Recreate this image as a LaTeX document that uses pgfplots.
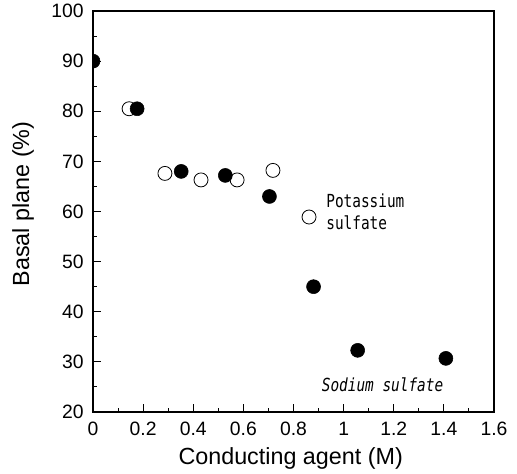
\documentclass[border=0pt]{standalone}
\usepackage{pgfplots}
\pgfplotsset{compat=1.18}
\usepackage{graphicx}
\usepackage{fontspec}
\setmainfont{Liberation Sans}
\newfontfamily\annofont{DejaVu Sans Mono}

% right half of a disc, for a point sitting on the left axis line
\pgfdeclareplotmark{rhalf}{%
  \pgfpathmoveto{\pgfqpoint{0pt}{\pgfplotmarksize}}%
  \pgfpatharc{90}{-90}{\pgfplotmarksize}%
  \pgfpathclose
  \pgfusepathqfillstroke}

% Basal plane fraction versus conducting agent concentration
\pgfplotstableread{
x      y
0.144  80.5
0.287  67.6
0.431  66.3
0.575  66.3
0.718  68.2
0.862  58.9
}\potassium
\pgfplotstableread{
x      y
0.000  90.0
}\sodiumzero
\pgfplotstableread{
x      y
0.176  80.5
0.352  68.0
0.528  67.2
0.704  63.0
0.880  45.0
1.056  32.3
1.408  30.7
}\sodium

\begin{document}
\begin{tikzpicture}
\begin{axis}[
  scale only axis,
  width=300.75pt, height=300.75pt,
  xmin=0, xmax=1.6, ymin=20, ymax=100,
  xtick={0,0.2,0.4,0.6,0.8,1,1.2,1.4,1.6},
  ytick={20,30,40,50,60,70,80,90,100},
  minor x tick num=1, minor y tick num=1,
  tick align=inside,
  xtick pos=bottom, ytick pos=left,
  major tick length=6pt, minor tick length=3pt,
  axis line style={line width=1.2pt},
  every tick/.style={black, line width=0.8pt},
  /pgf/number format/assume math mode=true,
  tick label style={font=\fontsize{14.5}{16}\selectfont},
  xticklabel shift=4.3pt,
  yticklabel shift=3.5pt,
  label style={font=\fontsize{17.5}{20}\selectfont},
  xlabel={Conducting agent (M)},
  ylabel={Basal plane (\%)},
  xlabel style={at={(axis description cs:0.493,-0.1147)}, anchor=center},
  ylabel style={at={(axis description cs:-0.1746,0.519)}, anchor=center, rotate=0},
]
\addplot[only marks, mark=*, mark size=5.25pt,
  mark options={draw=black, fill=white, line width=0.6pt}]
  table[x=x, y=y] {\potassium};
\addplot[only marks, mark=rhalf, mark size=5.25pt,
  mark options={draw=black, fill=black}]
  table[x=x, y=y] {\sodiumzero};
\addplot[only marks, mark=*, mark size=5.25pt,
  mark options={draw=black, fill=black}]
  table[x=x, y=y] {\sodium};

\node[anchor=west, inner sep=0pt, font=\annofont\fontsize{10.8}{12}\selectfont]
  at (axis cs:0.93,62.15) {\scalebox{1}[1.25]{Potassium}};
\node[anchor=west, inner sep=0pt, font=\annofont\fontsize{10.8}{12}\selectfont]
  at (axis cs:0.93,57.7) {\scalebox{1}[1.25]{sulfate}};
\node[anchor=west, inner sep=0pt, font=\annofont\itshape\fontsize{10.8}{12}\selectfont]
  at (axis cs:0.912,25.4) {\scalebox{1}[1.25]{Sodium sulfate}};
\end{axis}
\pgfresetboundingbox
\path ([shift={(-69.75pt,-46.5pt)}]current axis.south west)
  rectangle ([shift={(17.25pt,8.25pt)}]current axis.north east);
\end{tikzpicture}
\end{document}
